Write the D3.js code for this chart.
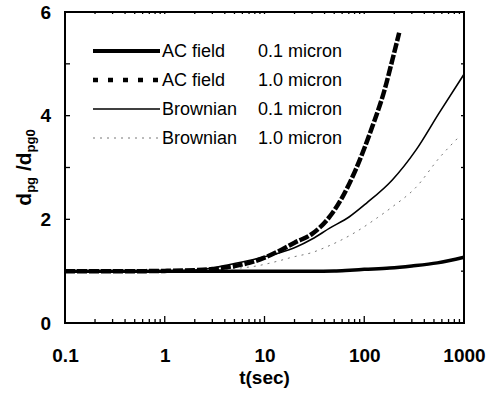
<!DOCTYPE html>
<html>
<head>
<meta charset="utf-8">
<script src="https://cdn.jsdelivr.net/npm/d3@7"></script>
<style>
  body { margin: 0; background: #fff; }
  svg { font-family: "Liberation Sans", Arial, sans-serif; }
</style>
</head>
<body>
<div id="chart"></div>
<script>
// AC field, 0.1 micron (thick solid)
const tAc01 = [0.1, 1, 10, 30, 50, 72, 100, 180, 300, 540, 1000];
const vAc01 = [1, 1, 1, 1, 1.005, 1.02, 1.035, 1.06, 1.1, 1.16, 1.27];

// AC field, 1.0 micron (thick dashed)
const tAc10 = [0.1, 0.5, 1, 2, 3, 5, 7, 10, 15, 20, 30, 45, 60, 83, 120, 160, 191, 224];
const vAc10 = [1, 1, 1.005, 1.02, 1.04, 1.1, 1.16, 1.26, 1.42, 1.55, 1.72, 2.05, 2.42, 2.98, 3.78, 4.5, 5.07, 5.6];

// Brownian, 0.1 micron (thin solid)
const tBr01 = [0.1, 1, 2, 3, 4.5, 8.3, 14, 21, 30, 45, 71, 105, 191, 331, 562, 1000];
const vBr01 = [1, 1, 1.02, 1.06, 1.13, 1.24, 1.35, 1.47, 1.62, 1.83, 2.05, 2.31, 2.76, 3.34, 4.05, 4.8];

// Brownian, 1.0 micron (thin dotted)
const tBr10 = [0.1, 1, 2, 4, 8.3, 14, 19, 30, 42, 56, 83, 135, 191, 331, 562, 900];
const vBr10 = [1, 1, 1.01, 1.04, 1.1, 1.2, 1.27, 1.36, 1.47, 1.58, 1.76, 2.03, 2.24, 2.62, 3.18, 3.6];

const xTicks = [0.1, 1, 10, 100, 1000];
const xTickLabels = ['0.1', '1', '10', '100', '1000'];
const yTicks = [0, 2, 4, 6];
const yMinorTicks = [1, 3, 5];

const legendNames = ['AC field', 'AC field', 'Brownian', 'Brownian'];
const legendSizes = ['0.1 micron', '1.0 micron', '0.1 micron', '1.0 micron'];

const width = 500;
const height = 394;
const margin = { top: 12, right: 36, bottom: 71, left: 65 };

const svg = d3.select('#chart')
  .append('svg')
  .attr('width', width)
  .attr('height', height);

// X Scale
const x = d3.scaleLog()
  .domain([0.1, 1000])
  .range([margin.left, width - margin.right]);

// Y Scale
const y = d3.scaleLinear()
  .domain([0, 6])
  .range([height - margin.bottom, margin.top]);

const x0 = margin.left, x1 = width - margin.right;
const y0 = height - margin.bottom, y1 = margin.top;

// minor decade ticks
const xMinor = [];
for (let d = 0.1; d < 1000; d *= 10) {
  for (let k = 2; k <= 9; k++) xMinor.push(+(d * k).toPrecision(3));
}

// X Axis labels
const xAxis = svg.append('g')
  .attr('transform', `translate(0, ${y0})`)
  .call(d3.axisBottom(x).tickValues(xTicks).tickSize(0).tickPadding(26)
    .tickFormat((d, i) => xTickLabels[i]));

// Y Axis labels
const yAxis = svg.append('g')
  .attr('transform', `translate(${x0}, 0)`)
  .call(d3.axisLeft(y).tickValues(yTicks).tickSize(0).tickPadding(14)
    .tickFormat(d3.format('d')));

svg.selectAll('.domain').remove();
svg.selectAll('.tick line').remove();
svg.selectAll('.tick text')
  .attr('fill', '#000')
  .style('font-size', '19px')
  .style('font-weight', 'bold');
xAxis.selectAll('.tick text').attr('dy', '0.71em');

// inward ticks, drawn from the scales
const ticks = svg.append('g')
  .attr('stroke', '#000')
  .attr('stroke-width', 1.3);

ticks.selectAll('line.xmaj')
  .data(xTicks)
  .enter()
  .append('line')
  .attr('x1', d => x(d))
  .attr('x2', d => x(d))
  .attr('y1', y0)
  .attr('y2', y0 - 7);

ticks.selectAll('line.xmin')
  .data(xMinor)
  .enter()
  .append('line')
  .attr('x1', d => x(d))
  .attr('x2', d => x(d))
  .attr('y1', y0)
  .attr('y2', y0 - 4);

ticks.selectAll('line.xtop')
  .data(xMinor.concat(xTicks))
  .enter()
  .append('line')
  .attr('x1', d => x(d))
  .attr('x2', d => x(d))
  .attr('y1', y1)
  .attr('y2', y1 + 2);

ticks.selectAll('line.yleft')
  .data(yTicks.concat(yMinorTicks))
  .enter()
  .append('line')
  .attr('x1', x0)
  .attr('x2', x0 + 5)
  .attr('y1', d => y(d))
  .attr('y2', d => y(d));

ticks.selectAll('line.yright')
  .data(yTicks.concat(yMinorTicks))
  .enter()
  .append('line')
  .attr('x1', x1)
  .attr('x2', x1 - 3)
  .attr('y1', d => y(d))
  .attr('y2', d => y(d));

// frame
svg.append('rect')
  .attr('x', x0)
  .attr('y', y1)
  .attr('width', x1 - x0)
  .attr('height', y0 - y1)
  .attr('fill', 'none')
  .attr('stroke', '#000')
  .attr('stroke-width', 2);

// Lines
const line = d3.line()
  .x(d => x(d[0]))
  .y(d => y(d[1]))
  .curve(d3.curveMonotoneX);

const series = [
  { t: tBr10, v: vBr10, width: 1, dash: '2,5', color: '#777' },
  { t: tBr01, v: vBr01, width: 1.6, dash: null, color: '#000' },
  { t: tAc01, v: vAc01, width: 3.5, dash: null, color: '#000' },
  { t: tAc10, v: vAc10, width: 4.5, dash: '10,2', color: '#000' }
];

series.forEach(s => {
  svg.append('path')
    .datum(s.t.map((t, i) => [t, s.v[i]]))
    .attr('fill', 'none')
    .attr('stroke', s.color)
    .attr('stroke-width', s.width)
    .attr('stroke-dasharray', s.dash)
    .attr('d', line);
});

// Legend
const legendStyles = [
  { width: 4, dash: null, color: '#000' },
  { width: 4.5, dash: '5,10', color: '#000' },
  { width: 1.6, dash: null, color: '#000' },
  { width: 1, dash: '2,5', color: '#777' }
];
const legendY = [51, 80, 109, 138];

legendNames.forEach((name, i) => {
  svg.append('line')
    .attr('x1', 93)
    .attr('x2', 160)
    .attr('y1', legendY[i])
    .attr('y2', legendY[i])
    .attr('stroke', legendStyles[i].color)
    .attr('stroke-width', legendStyles[i].width)
    .attr('stroke-dasharray', legendStyles[i].dash);
  svg.append('text')
    .attr('x', 162)
    .attr('y', legendY[i] + 6)
    .style('font-size', '18px')
    .text(name);
  svg.append('text')
    .attr('x', 258)
    .attr('y', legendY[i] + 6)
    .style('font-size', '18px')
    .text(legendSizes[i]);
});

// X-axis label
svg.append('text')
  .attr('x', (x0 + x1) / 2)
  .attr('y', 384)
  .attr('text-anchor', 'middle')
  .style('font-size', '19px')
  .style('font-weight', 'bold')
  .text('t(sec)');

// Y-axis label
const yLabel = svg.append('text')
  .attr('transform', `translate(31, ${(y0 + y1) / 2}) rotate(-90)`)
  .attr('text-anchor', 'middle')
  .style('font-size', '21px')
  .style('font-weight', 'bold');
yLabel.append('tspan').text('d');
yLabel.append('tspan').attr('dy', 4).style('font-size', '13px').text('pg');
yLabel.append('tspan').attr('dy', -4).text(' /d');
yLabel.append('tspan').attr('dy', 4).style('font-size', '13px').text('pg0');
</script>
</body>
</html>
